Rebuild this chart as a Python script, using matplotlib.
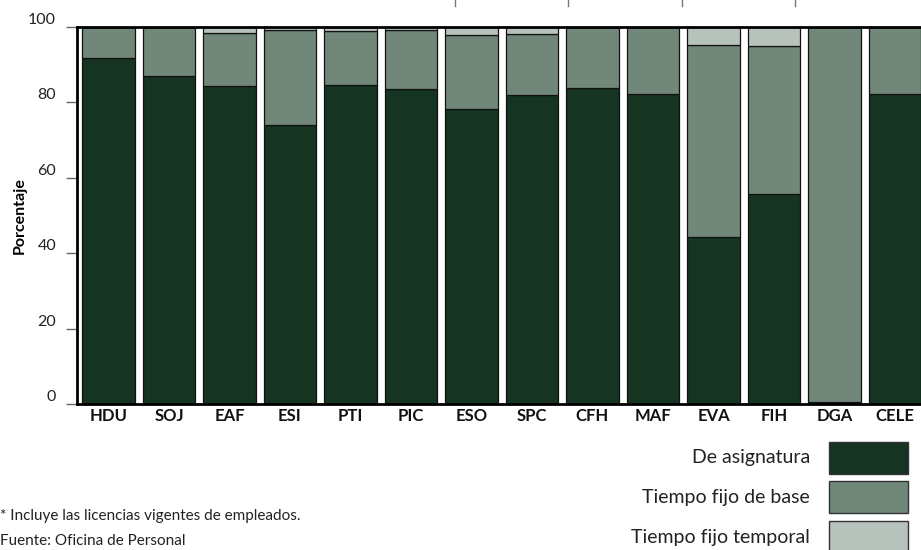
import matplotlib
matplotlib.use("Agg")
import matplotlib.pyplot as plt
from matplotlib.lines import Line2D
from matplotlib.patches import Rectangle
import numpy as np

categories = ["HDU", "SOJ", "EAF", "ESI", "PTI", "PIC", "ESO", "SPC", "CFH", "MAF", "EVA", "FIH", "DGA", "CELE"]
de_asignatura = [91.7, 87.0, 84.3, 74.0, 84.5, 83.5, 78.2, 82.0, 83.7, 82.1, 44.2, 55.7, 0.5, 82.1]
tiempo_fijo_base = [8.3, 13.0, 14.1, 25.2, 14.5, 15.6, 19.8, 16.2, 16.3, 17.9, 51.0, 39.3, 99.5, 17.9]
tiempo_fijo_temporal = [0.0, 0.0, 1.6, 0.8, 1.0, 0.9, 2.0, 1.8, 0.0, 0.0, 4.8, 5.0, 0.0, 0.0]
series_names = ["De asignatura", "Tiempo fijo de base", "Tiempo fijo temporal"]
colors = ["#163422", "#71877a", "#b8c2bc"]
yticks = [0, 20, 40, 60, 80, 100]

plt.rcParams['font.family'] = ['Lato', 'DejaVu Sans']

W, H = 921, 550
fig = plt.figure(figsize=(W / 100, H / 100), dpi=100)
ax = fig.add_axes([77 / W, 1 - 404 / H, (921 - 77) / W, (404 - 27) / H])

x = np.arange(len(categories))
bottom = np.zeros(len(categories))
for vals, col, name in zip([de_asignatura, tiempo_fijo_base, tiempo_fijo_temporal], colors, series_names):
    v = np.array(vals)
    ax.bar(x, v, width=0.87, bottom=bottom, color=col, edgecolor="#111111", linewidth=0.9, label=name)
    bottom += v

ax.set_xlim(-0.52, 13.43)
ax.set_ylim(0, 100)
ax.set_yticks(yticks)
ax.set_yticklabels([str(t) for t in yticks], fontsize=11.5, color="#222222")
ax.tick_params(axis="y", length=8, width=1, color="#666666", pad=7)
for lab in ax.get_yticklabels():
    lab.set_verticalalignment("bottom")
ax.set_xticks(x)
ax.set_xticklabels(categories, fontsize=12, fontweight="bold", color="#111111")
ax.tick_params(axis="x", length=0, pad=3)

ax.spines["right"].set_visible(False)
ax.spines["top"].set_linewidth(2)
ax.spines["bottom"].set_linewidth(2)
ax.spines["left"].set_linewidth(2)
for s in ["top", "bottom", "left"]:
    ax.spines[s].set_color("#000000")

ax.set_ylabel("Porcentaje", fontsize=11.5, fontweight="bold", labelpad=1)

# decorative ticks at top edge
for px in [455, 568, 682, 795]:
    fig.add_artist(Line2D([px / W, px / W], [1, 1 - 6 / H], color="#777777", lw=1, transform=fig.transFigure))

# legend
labels_y = [458, 497, 537]
for name, col, py in zip(series_names, colors, labels_y):
    fig.text(810 / W, 1 - py / H, name, ha="right", va="center", fontsize=14, color="#222222")
    fig.add_artist(Rectangle((829 / W, 1 - (py + 16) / H), 79 / W, 32 / H, facecolor=col,
                             edgecolor="#333333", lw=1, transform=fig.transFigure))

fig.text(0.0, 1 - 516 / H, "* Incluye las licencias vigentes de empleados.", ha="left", va="center",
         fontsize=11, color="#222222")
fig.text(0.0, 1 - 541 / H, "Fuente: Oficina de Personal", ha="left", va="center",
         fontsize=11, color="#222222")

fig.savefig("out.png", dpi=100)
